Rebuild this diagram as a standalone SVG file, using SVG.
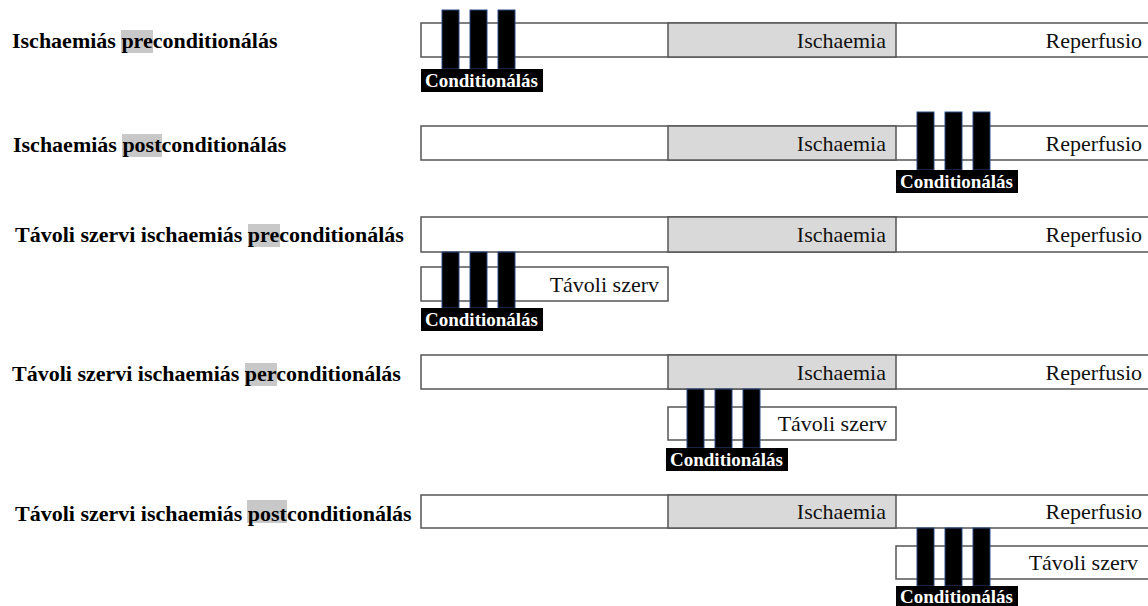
<svg xmlns="http://www.w3.org/2000/svg" width="1148" height="606" viewBox="0 0 1148 606">
  <style>
    .title { font-family: Liberation Serif, Tinos, Times New Roman, Times, serif; font-weight: bold; font-size: 22px; fill: #000; }
    .hl { fill: #c8c8c8; }
    .bar { fill: #fff; stroke: #555; stroke-width: 1.5; }
    .isch { fill: #d9d9d9; stroke: #555; stroke-width: 1.5; }
    .lbl { font-family: Liberation Serif, Tinos, Times New Roman, Times, serif; font-size: 22px; fill: #111; text-anchor: end; }
    .stripe { fill: #000; stroke: #2b4a86; stroke-width: 1; }
    .cbox { fill: #000; }
    .ctext { font-family: Liberation Serif, Tinos, Times New Roman, Times, serif; font-weight: bold; font-size: 19px; fill: #fff; }
  </style>

  <!-- Row 1: ischaemic preconditioning -->
  <g id="row1">
    <rect class="hl" x="121" y="30" width="32" height="23"/>
    <text class="title" x="12" y="48">Ischaemiás preconditionálás</text>
    <rect class="bar" x="421" y="23" width="740" height="34"/>
    <rect class="isch" x="668" y="23" width="228" height="34"/>
    <text class="lbl" x="886" y="48">Ischaemia</text>
    <text class="lbl" x="1142" y="48">Reperfusio</text>
    <g transform="translate(421,69)">
      <rect class="stripe" x="21" y="-59" width="17" height="59"/>
      <rect class="stripe" x="49" y="-59" width="17" height="59"/>
      <rect class="stripe" x="77" y="-59" width="17" height="59"/>
      <rect class="cbox" x="0" y="0" width="122" height="23"/>
      <text class="ctext" x="4" y="18">Conditionálás</text>
    </g>
  </g>

  <!-- Row 2: ischaemic postconditioning -->
  <g id="row2">
    <rect class="hl" x="122" y="134" width="40" height="23"/>
    <text class="title" x="13" y="152">Ischaemiás postconditionálás</text>
    <rect class="bar" x="421" y="126" width="740" height="34"/>
    <rect class="isch" x="668" y="126" width="228" height="34"/>
    <text class="lbl" x="886" y="151">Ischaemia</text>
    <text class="lbl" x="1142" y="151">Reperfusio</text>
    <g transform="translate(896,170)">
      <rect class="stripe" x="21" y="-58" width="17" height="58"/>
      <rect class="stripe" x="49" y="-58" width="17" height="58"/>
      <rect class="stripe" x="77" y="-58" width="17" height="58"/>
      <rect class="cbox" x="0" y="0" width="122" height="23"/>
      <text class="ctext" x="4" y="18">Conditionálás</text>
    </g>
  </g>

  <!-- Row 3: remote ischaemic preconditioning -->
  <g id="row3">
    <rect class="hl" x="248" y="224" width="32" height="23"/>
    <text class="title" x="15" y="242">Távoli szervi ischaemiás preconditionálás</text>
    <rect class="bar" x="421" y="217" width="740" height="35"/>
    <rect class="isch" x="668" y="217" width="228" height="35"/>
    <text class="lbl" x="886" y="242">Ischaemia</text>
    <text class="lbl" x="1142" y="242">Reperfusio</text>
    <rect class="bar" x="421" y="267" width="247" height="34"/>
    <text class="lbl" x="659" y="292">Távoli szerv</text>
    <g transform="translate(421,308)">
      <rect class="stripe" x="21" y="-56" width="17" height="56"/>
      <rect class="stripe" x="49" y="-56" width="17" height="56"/>
      <rect class="stripe" x="77" y="-56" width="17" height="56"/>
      <rect class="cbox" x="0" y="0" width="122" height="23"/>
      <text class="ctext" x="4" y="18">Conditionálás</text>
    </g>
  </g>

  <!-- Row 4: remote ischaemic perconditioning -->
  <g id="row4">
    <rect class="hl" x="245" y="363" width="32" height="23"/>
    <text class="title" x="12" y="381">Távoli szervi ischaemiás perconditionálás</text>
    <rect class="bar" x="421" y="355" width="740" height="34"/>
    <rect class="isch" x="668" y="355" width="228" height="34"/>
    <text class="lbl" x="886" y="380">Ischaemia</text>
    <text class="lbl" x="1142" y="380">Reperfusio</text>
    <rect class="bar" x="668" y="407" width="228" height="33"/>
    <text class="lbl" x="887" y="431">Távoli szerv</text>
    <g transform="translate(666,448)">
      <rect class="stripe" x="21" y="-59" width="17" height="59"/>
      <rect class="stripe" x="49" y="-59" width="17" height="59"/>
      <rect class="stripe" x="77" y="-59" width="17" height="59"/>
      <rect class="cbox" x="0" y="0" width="122" height="23"/>
      <text class="ctext" x="4" y="18">Conditionálás</text>
    </g>
  </g>

  <!-- Row 5: remote ischaemic postconditioning -->
  <g id="row5">
    <rect class="hl" x="247" y="500" width="40" height="23"/>
    <text class="title" x="15" y="521">Távoli szervi ischaemiás postconditionálás</text>
    <rect class="bar" x="421" y="495" width="740" height="33"/>
    <rect class="isch" x="668" y="495" width="228" height="33"/>
    <text class="lbl" x="886" y="519">Ischaemia</text>
    <text class="lbl" x="1142" y="519">Reperfusio</text>
    <rect class="bar" x="896" y="546" width="265" height="33"/>
    <text class="lbl" x="1138" y="570">Távoli szerv</text>
    <g transform="translate(896,586)">
      <rect class="stripe" x="21" y="-58" width="17" height="58"/>
      <rect class="stripe" x="49" y="-58" width="17" height="58"/>
      <rect class="stripe" x="77" y="-58" width="17" height="58"/>
      <rect class="cbox" x="0" y="0" width="122" height="20"/>
      <text class="ctext" x="4" y="17">Conditionálás</text>
    </g>
  </g>
</svg>
